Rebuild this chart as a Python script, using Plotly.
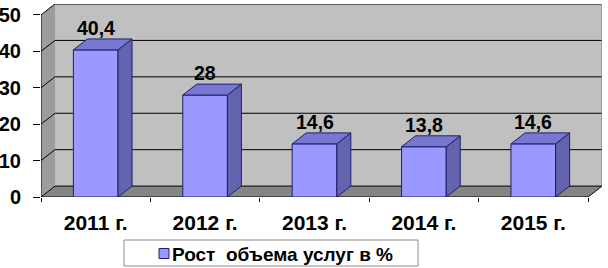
import plotly.graph_objects as go

# ---- data ----
categories = ["2011 г.", "2012 г.", "2013 г.", "2014 г.", "2015 г."]
values = [40.4, 28, 14.6, 13.8, 14.6]
series_name = "Рост\u00a0 объема услуг в %"
y_ticks = [0, 10, 20, 30, 40, 50]

# ---- geometry / style ----
W, H = 608, 268
ML, MR, MT, MB = 41, 6, 4, 71
DX = 0.128      # 3D depth, in category units
DY = 3.0        # 3D depth, in value units
BAR_W = 0.408
X_RANGE = [-0.5, 4.5 + DX]
Y_RANGE = [0, 53.0]
FRONT = "#9999FF"
SIDE = "#6464AE"
TOP = "#7878D0"
OUTLINE = "#1E1E6E"
FONT = "Liberation Sans, Arial, sans-serif"
FS = 19

PW, PH = W - ML - MR, H - MT - MB


def px_x(p):
    return (p - ML) / PW


def px_y(p):
    return (H - MB - p) / PH


xs = list(range(len(categories)))
x_left = X_RANGE[0]
x_right = len(categories) - 0.5
y_max = y_ticks[-1]

fig = go.Figure()

# front faces of bars
fig.add_trace(go.Bar(
    x=xs, y=values, width=BAR_W, name=series_name,
    marker=dict(color=FRONT, line=dict(color=OUTLINE, width=1)),
    hoverinfo="skip", showlegend=False,
))

# side and top faces of bars
for x, v in zip(xs, values):
    x0, x1 = x - BAR_W / 2, x + BAR_W / 2
    fig.add_trace(go.Scatter(
        x=[x1, x1 + DX, x1 + DX, x1, x1], y=[0, DY, v + DY, v, 0],
        mode="lines", fill="toself", fillcolor=SIDE,
        line=dict(color=OUTLINE, width=1), hoverinfo="skip", showlegend=False))
    fig.add_trace(go.Scatter(
        x=[x0, x1, x1 + DX, x0 + DX, x0], y=[v, v, v + DY, v + DY, v],
        mode="lines", fill="toself", fillcolor=TOP,
        line=dict(color=OUTLINE, width=1), hoverinfo="skip", showlegend=False))

shapes = []
# back wall
shapes.append(dict(type="path", layer="below", xref="x", yref="y",
                   path=f"M{x_left+DX},{DY} L{x_right+DX},{DY} L{x_right+DX},{y_max+DY} L{x_left+DX},{y_max+DY} Z",
                   fillcolor="#C0C0C0", line=dict(width=0)))
# left wall
shapes.append(dict(type="path", layer="below", xref="x", yref="y",
                   path=f"M{x_left},0 L{x_left+DX},{DY} L{x_left+DX},{y_max+DY} L{x_left},{y_max} Z",
                   fillcolor="#9C9C9C", line=dict(width=0)))
# floor
shapes.append(dict(type="path", layer="below", xref="x", yref="y",
                   path=f"M{x_left},0 L{x_right},0 L{x_right+DX},{DY} L{x_left+DX},{DY} Z",
                   fillcolor="#858585", line=dict(width=0)))
# gridlines on back and side walls
for v in y_ticks:
    shapes.append(dict(type="line", layer="below", xref="x", yref="y",
                       x0=x_left + DX, y0=v + DY, x1=x_right + DX, y1=v + DY,
                       line=dict(color="black", width=1)))
    shapes.append(dict(type="line", layer="below", xref="x", yref="y",
                       x0=x_left, y0=v, x1=x_left + DX, y1=v + DY,
                       line=dict(color="black", width=1)))
# axis lines and edges
shapes.append(dict(type="line", layer="below", xref="x", yref="y",
                   x0=x_left, y0=0, x1=x_left, y1=y_max, line=dict(color="black", width=1)))
shapes.append(dict(type="line", layer="below", xref="x", yref="y",
                   x0=x_left, y0=0, x1=x_right, y1=0, line=dict(color="black", width=1)))
shapes.append(dict(type="line", layer="below", xref="x", yref="y",
                   x0=x_right, y0=0, x1=x_right + DX, y1=DY, line=dict(color="black", width=1)))
shapes.append(dict(type="line", layer="below", xref="x", yref="y",
                   x0=x_right + DX, y0=DY, x1=x_right + DX, y1=y_max + DY,
                   line=dict(color="#808080", width=1)))

# legend (box, swatch, text)
shapes.append(dict(type="rect", xref="paper", yref="paper",
                   x0=px_x(124), x1=px_x(418), y0=px_y(266), y1=px_y(240),
                   fillcolor="white", line=dict(color="#8C8C8C", width=1)))
shapes.append(dict(type="rect", xref="paper", yref="paper",
                   x0=px_x(159), x1=px_x(169), y0=px_y(258.5), y1=px_y(248.5),
                   fillcolor=FRONT, line=dict(color=OUTLINE, width=1)))

annotations = []
for x, v in zip(xs, values):
    annotations.append(dict(
        x=x, y=v + DY, xref="x", yref="y", text=f"{v:g}".replace(".", ","),
        showarrow=False, yanchor="bottom", xanchor="center", yshift=-2,
        font=dict(family=FONT, size=FS + 0.5, color="black", weight="bold")))
annotations.append(dict(
    x=px_x(172), y=px_y(254), xref="paper", yref="paper", text=series_name,
    showarrow=False, xanchor="left", yanchor="middle", xshift=-2,
    font=dict(family=FONT, size=FS, color="black", weight="bold")))

fig.update_layout(
    width=W, height=H,
    margin=dict(l=ML, r=MR, t=MT, b=MB, autoexpand=False),
    paper_bgcolor="white", plot_bgcolor="white",
    shapes=shapes, annotations=annotations,
    showlegend=False,
    xaxis=dict(
        range=X_RANGE, tickmode="array", tickvals=xs, ticktext=categories,
        ticks="", showgrid=False, zeroline=False, showline=False, automargin=False,
        tickfont=dict(family=FONT, size=21, color="black", weight="bold"),
        ticklabelstandoff=11,
        minor=dict(tick0=0.5, dtick=1, ticks="outside", ticklen=4,
                   tickcolor="black", tickwidth=1, showgrid=False),
    ),
    yaxis=dict(
        range=Y_RANGE, tickmode="array", tickvals=y_ticks,
        ticks="outside", ticklen=7, tickcolor="black", tickwidth=1,
        showgrid=False, zeroline=False, showline=False, automargin=False,
        tickfont=dict(family=FONT, size=20, color="black", weight="bold"),
        ticklabelstandoff=8,
    ),
)

fig.write_html(
    "out.html",
    config=dict(displayModeBar=False, staticPlot=True),
    post_script="document.body.style.margin='0';document.body.style.overflow='hidden';",
)
